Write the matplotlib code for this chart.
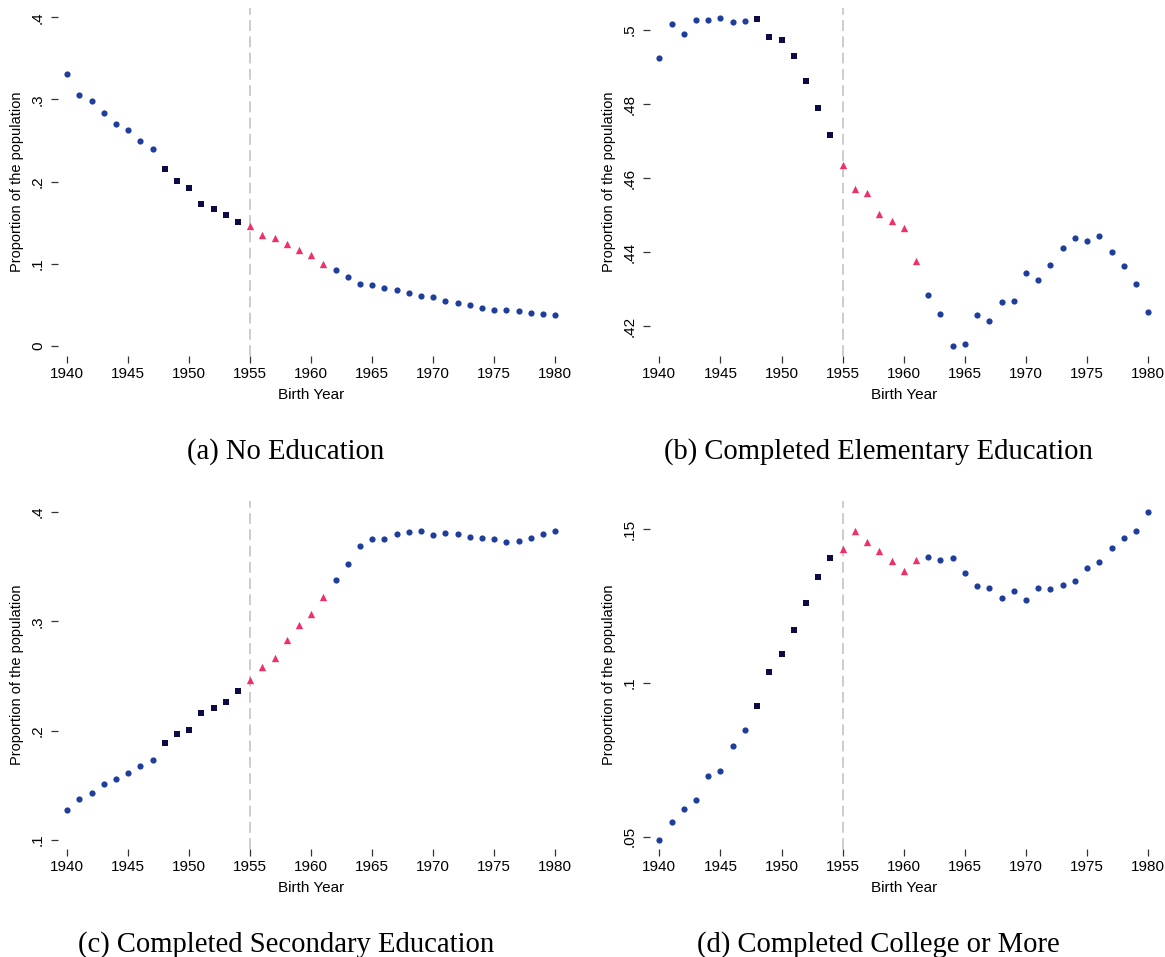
import matplotlib
matplotlib.use("Agg")
import matplotlib.pyplot as plt
import numpy as np

# Birth cohorts and cohort groups
years = list(range(1940, 1981))
# 1940-1947 and 1962-1980: unaffected cohorts; 1948-1954: pre-reform; 1955-1961: reform cohorts
group = ["out"] * 8 + ["pre"] * 7 + ["treat"] * 7 + ["out"] * 19

no_education = [
    0.3306, 0.3055, 0.2986, 0.2832, 0.2706, 0.2629, 0.2499, 0.2394,
    0.2150, 0.2008, 0.1919, 0.1732, 0.1667, 0.1598, 0.1505,
    0.1460, 0.1350, 0.1310, 0.1240, 0.1160, 0.1100, 0.1000,
    0.0925, 0.0840, 0.0755, 0.0734, 0.0702, 0.0673, 0.0641, 0.0600,
    0.0592, 0.0548, 0.0523, 0.0491, 0.0458, 0.0438, 0.0430, 0.0418,
    0.0394, 0.0385, 0.0377,
]
elementary = [
    0.4924, 0.5015, 0.4990, 0.5026, 0.5027, 0.5032, 0.5022, 0.5024,
    0.5029, 0.4982, 0.4972, 0.4929, 0.4861, 0.4790, 0.4717,
    0.4635, 0.4570, 0.4561, 0.4502, 0.4484, 0.4466, 0.4376,
    0.4285, 0.4233, 0.4146, 0.4152, 0.4231, 0.4214, 0.4265, 0.4269,
    0.4345, 0.4325, 0.4365, 0.4411, 0.4439, 0.4429, 0.4445, 0.4400,
    0.4362, 0.4314, 0.4238,
]
secondary = [
    0.1271, 0.1372, 0.1427, 0.1512, 0.1561, 0.1616, 0.1677, 0.1732,
    0.1887, 0.1966, 0.2009, 0.2162, 0.2210, 0.2262, 0.2363,
    0.2460, 0.2585, 0.2668, 0.2829, 0.2966, 0.3067, 0.3226,
    0.3375, 0.3521, 0.3689, 0.3750, 0.3750, 0.3799, 0.3814, 0.3829,
    0.3790, 0.3811, 0.3802, 0.3771, 0.3765, 0.3750, 0.3726, 0.3738,
    0.3765, 0.3802, 0.3823,
]
college = [
    0.0490, 0.0548, 0.0589, 0.0618, 0.0699, 0.0713, 0.0796, 0.0846,
    0.0925, 0.1036, 0.1095, 0.1174, 0.1259, 0.1344, 0.1407,
    0.1437, 0.1495, 0.1458, 0.1428, 0.1398, 0.1363, 0.1401,
    0.1410, 0.1400, 0.1405, 0.1357, 0.1315, 0.1309, 0.1276, 0.1300,
    0.1270, 0.1310, 0.1305, 0.1319, 0.1331, 0.1375, 0.1394, 0.1438,
    0.1471, 0.1496, 0.1556,
]

captions = [
    "(a) No Education",
    "(b) Completed Elementary Education",
    "(c) Completed Secondary Education",
    "(d) Completed College or More",
]
ytick_values = [
    [0, 0.1, 0.2, 0.3, 0.4],
    [0.42, 0.44, 0.46, 0.48, 0.50],
    [0.1, 0.2, 0.3, 0.4],
    [0.05, 0.10, 0.15],
]
ytick_labels = [
    ["0", ".1", ".2", ".3", ".4"],
    [".42", ".44", ".46", ".48", ".5"],
    [".1", ".2", ".3", ".4"],
    [".05", ".1", ".15"],
]
xtick_values = list(range(1940, 1981, 5))
cutoff_year = 1955

W, H = 1165, 957
# panel boxes in pixels: left, top, right, bottom
boxes = [
    (57.5, 8, 565, 356),
    (649.5, 8, 1158, 356),
    (57.5, 501, 565, 849),
    (649.5, 501, 1158, 849),
]
ylims = [(-0.0125, 0.4113), (0.4120, 0.5059), (0.0918, 0.4101), (0.0460, 0.1592)]
caption_xy = [(286, 452), (878, 452), (286, 945), (878, 945)]

styles = {
    "out": dict(marker="o", color="#1f3d9b", s=20),
    "pre": dict(marker="s", color="#0c0b45", s=20),
    "treat": dict(marker="^", color="#f0306b", s=28),
}

plt.rcParams["font.family"] = ["Liberation Sans", "DejaVu Sans"]

fig = plt.figure(figsize=(W / 100, H / 100), dpi=100)
series = [no_education, elementary, secondary, college]

for i, vals in enumerate(series):
    l, t, r, b = boxes[i]
    ax = fig.add_axes([l / W, 1 - b / H, (r - l) / W, (b - t) / H])
    for side in ax.spines.values():
        side.set_visible(False)
    ax.axvline(cutoff_year, color="#c8c8c8", lw=1.3, dashes=(6, 3), zorder=1)
    yrs = np.array(years)
    v = np.array(vals)
    g = np.array(group)
    for key, st in styles.items():
        m = g == key
        ax.scatter(yrs[m], v[m], marker=st["marker"], color=st["color"],
                   s=st["s"], linewidths=0, zorder=3)
    ax.set_xlim(1939.2, 1980.8)
    ax.set_ylim(*ylims[i])
    ax.set_xticks(xtick_values)
    ax.set_xticklabels([str(x) for x in xtick_values], fontsize=11)
    ax.set_yticks(ytick_values[i])
    ax.set_yticklabels(ytick_labels[i], fontsize=11, rotation=90, va="center")
    ax.tick_params(axis="both", length=5, width=0.9, color="#333333", pad=3)
    ax.tick_params(axis="y", pad=4)
    ax.set_xlabel("Birth Year", fontsize=11, labelpad=5)
    ax.set_ylabel("Proportion of the population", fontsize=10.5, labelpad=5)
    cx, cy = caption_xy[i]
    fig.text(cx / W, 1 - cy / H, captions[i], ha="center", va="center",
             fontsize=20.6, family=["Liberation Serif", "DejaVu Serif"])

fig.savefig("out.png", dpi=100)
